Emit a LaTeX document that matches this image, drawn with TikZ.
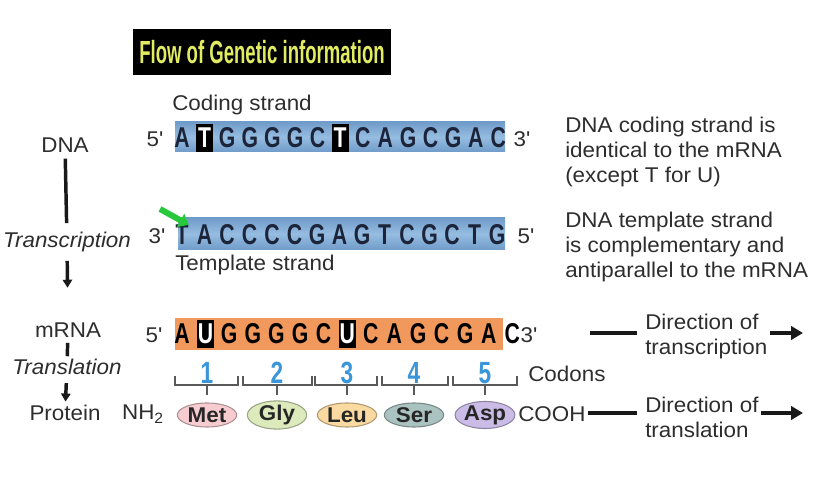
\documentclass[tikz,border=0pt]{standalone}
\usepackage{fontspec}
\setmainfont{Liberation Sans}[FakeStretch=1.05]
\newfontfamily\titlefont{Liberation Sans}[FakeStretch=0.58]
\newfontfamily\seqfont{Liberation Sans}[FakeStretch=0.74]
\usepackage{xcolor}
\usetikzlibrary{arrows.meta,shapes.geometric}

\definecolor{dnablue}{RGB}{150,188,224}
\definecolor{dnaedge}{RGB}{112,156,202}
\definecolor{rnaorange}{RGB}{241,152,92}
\definecolor{titleyellow}{RGB}{226,236,96}
\definecolor{codonblue}{RGB}{58,150,216}
\definecolor{txtgray}{RGB}{45,45,45}
\definecolor{basenavy}{RGB}{28,36,58}
\definecolor{gfp}{RGB}{40,200,60}
\definecolor{metpink}{RGB}{246,204,208}
\definecolor{glygreen}{RGB}{220,234,188}
\definecolor{leuorange}{RGB}{250,218,160}
\definecolor{sergray}{RGB}{170,194,192}
\definecolor{asppurple}{RGB}{202,188,230}

\newcommand{\pr}{\textquotesingle}

\tikzset{
  body/.style={font=\fontsize{16}{18.75}\selectfont, text=txtgray, inner sep=0pt},
  base/.style={font=\seqfont\bfseries\fontsize{21.5}{21.5}\selectfont, text=basenavy, inner sep=0pt},
  rnabase/.style={base, text=black},
  hilite/.style={base, fill=black, text=white, minimum width=13pt, minimum height=21pt},
  codon/.style={draw=black!65, line width=1.2pt},
  num/.style={font=\seqfont\bfseries\fontsize{23}{23}\selectfont, text=codonblue, inner sep=0pt},
  amino/.style={ellipse, draw=#1!70!black, fill=#1, line width=0.8pt,
    minimum width=44.5pt, minimum height=18pt, inner sep=0pt,
    font=\bfseries\fontsize{16}{16}\selectfont, text=black!85},
  flow/.style={line width=2.6pt, black!90},
  dirline/.style={line width=3pt, black!90},
}

\begin{document}
\begin{tikzpicture}[x=0.75pt, y=-0.75pt]
  \useasboundingbox (0,0) rectangle (833,488);

  % Title
  \node[fill=black, text=titleyellow, minimum width=193.5pt, minimum height=34.5pt,
    font=\titlefont\bfseries\fontsize{24}{24}\selectfont] (title) at (262,52)
    {Flow of Genetic information};

  % Left column
  \node[body] (dna) at (65,145) {DNA};
  \node[body, font=\itshape\fontsize{16}{18.75}\selectfont] (transcr) at (67,242) {Transcription};
  \node[body] (mrna) at (68,330) {mRNA};
  \node[body, font=\itshape\fontsize{16}{18.75}\selectfont] (transl) at (67,367) {Translation};
  \node[body] (protein) at (65,413) {Protein};

  \draw[flow, shorten <=4.5pt, shorten >=6.5pt] (dna) -- (transcr);
  \draw[flow, -{Triangle[length=6pt,width=7pt]}, shorten <=6.5pt, shorten >=26pt] (transcr) -- (mrna);
  \draw[flow, shorten <=4pt, shorten >=2pt] (mrna) -- (transl);
  \draw[flow, -{Triangle[length=6pt,width=7pt]}, shorten <=6pt, shorten >=2.5pt] (transl) -- (protein);

  % Coding strand
  \node[body, anchor=west] (codlab) at (172,105) {Coding strand};
  \shade[top color=dnaedge, bottom color=dnaedge, middle color=dnablue] (175,122) rectangle (505,152);
  \node[body] (cs5) at (155,139) {5\pr};
  \foreach \b/\s [count=\i from 0] in {A/base,T/hilite,G/base,G/base,G/base,G/base,C/base,
      T/hilite,C/base,A/base,G/base,C/base,G/base,A/base,C/base}
    \node[\s] (cs\i) at ({182+22.6*\i},138) {\b};
  \node[body] (cs3) at (522,139) {3\pr};

  % Template strand
  \shade[top color=dnaedge, bottom color=dnaedge, middle color=dnablue] (178,218) rectangle (505,250);
  \node[body] (ts3) at (157,236) {3\pr};
  \foreach \b [count=\i from 0] in {T,A,C,C,C,C,G,A,G,T,C,G,C,T,G}
    \node[base] (ts\i) at ({182+22.5*\i},235) {\b};
  \node[body] (ts5) at (526,236) {5\pr};
  \node[body, anchor=west] (templab) at (175,265) {Template strand};

  % Green marker on the first template base
  \coordinate (gtail) at (160,209);
  \draw[gfp, line width=4.5pt, -{Triangle[length=7pt,width=11pt]}] (gtail) -- (ts0.north east);

  % mRNA
  \fill[rnaorange] (175,318) rectangle (503,350);
  \node[body] (rna5) at (154,335) {5\pr};
  \foreach \b/\s [count=\i from 0] in {A/rnabase,U/hilite,G/rnabase,G/rnabase,G/rnabase,G/rnabase,C/rnabase,
      U/hilite,C/rnabase,A/rnabase,G/rnabase,C/rnabase,G/rnabase,A/rnabase,C/rnabase}
    \node[\s] (rna\i) at ({182+23.6*\i},334) {\b};
  \node[body] (rna3) at (529,335) {3\pr};

  % Codon brackets, numbers and amino acids
  \foreach \l/\r/\m/\aa/\col [count=\k] in {175/238/207/Met/metpink,
      243/312/277/Gly/glygreen, 315/377/347/Leu/leuorange,
      382/448/414/Ser/sergray, 453/517/485/Asp/asppurple} {
    \draw[codon] (\l,376) |- (\r,385) -- (\r,376);
    \coordinate (tk\k) at (\m,395);
    \draw[codon] (\m,385) -- (tk\k);
    \node[num] (n\k) at (\m,373) {\k};
    \node[amino=\col] (aa\k) at (\m,415) {\aa};
  }
  \node[body, anchor=west] (codons) at (528,374) {Codons};

  \node[body] (nh2) at (143,414) {NH\textsubscript{2}};
  \node[body, anchor=west] (cooh) at (518,414) {COOH};

  % Notes on the right
  \node[body, anchor=west, align=left] (cnote) at (565,152) {DNA coding strand is\\identical to the mRNA\\(except T for U)};
  \node[body, anchor=west, align=left] (tnote) at (565,247) {DNA template strand\\is complementary and\\antiparallel to the mRNA};

  % Directions
  \node[body, anchor=west, align=left] (dirtc) at (645,336) {Direction of\\transcription};
  \node[body, anchor=west, align=left] (dirtl) at (645,417) {Direction of\\translation};

  \coordinate (tcstart) at (590,333);
  \coordinate (tcend) at (803,333);
  \coordinate (tlend) at (803,413);
  \draw[dirline, shorten >=6pt] (tcstart) -- (tcstart -| dirtc.west);
  \draw[dirline, shorten <=2pt, -{Triangle[length=9pt,width=10pt]}] (tcend -| dirtc.east) -- (tcend);
  \draw[dirline, shorten <=2pt, shorten >=6pt] (cooh.east |- tlend) -- (tlend -| dirtl.west);
  \draw[dirline, shorten <=2pt, -{Triangle[length=9pt,width=10pt]}] (tlend -| dirtl.east) -- (tlend);
\end{tikzpicture}
\end{document}
